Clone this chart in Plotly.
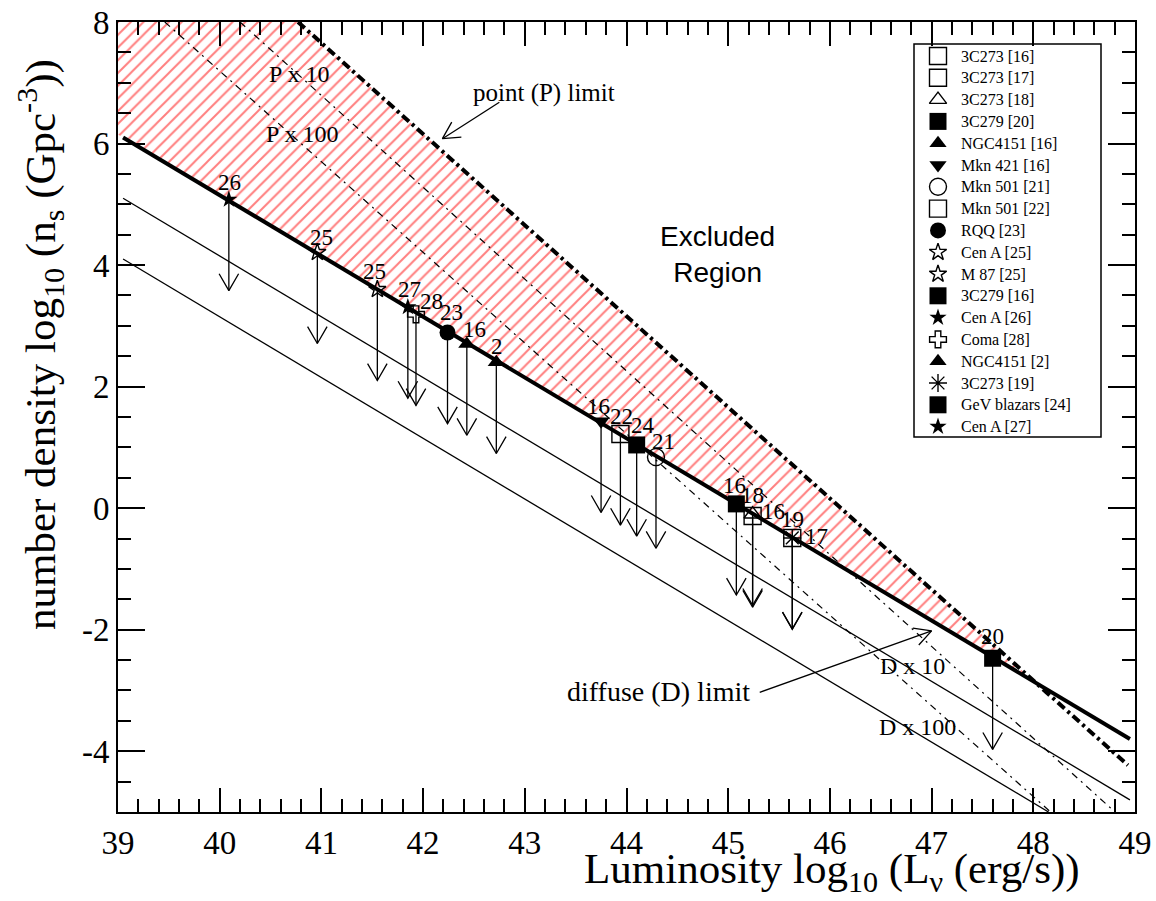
import math
import numpy as np
import plotly.graph_objects as go

# ---------------- data ----------------
source_names = ["3C273 [16]", "3C273 [17]", "3C273 [18]", "3C279 [20]", "NGC4151 [16]",
                "Mkn 421 [16]", "Mkn 501 [21]", "Mkn 501 [22]", "RQQ [23]", "Cen A [25]",
                "M 87 [25]", "3C279 [16]", "Cen A [26]", "Coma [28]", "NGC4151 [2]",
                "3C273 [19]", "GeV blazars [24]", "Cen A [27]"]
source_logL = [45.24, 45.63, 45.24, 47.60, 42.43, 43.75, 44.29, 43.94, 42.24, 40.96,
               41.55, 45.08, 40.09, 41.93, 42.72, 45.63, 44.10, 41.85]
source_logn = [-0.13, -0.49, -0.10, -2.47, 2.70, 1.43, 0.84, 1.22, 2.89, 4.21,
               3.60, 0.07, 5.08, 3.19, 2.40, -0.49, 1.04, 3.31]
source_refs = ["16", "17", "18", "20", "16", "16", "21", "22", "23", "25",
               "25", "16", "26", "28", "2", "19", "24", "27"]
upper_limit_drop = 1.5  # length of each upper-limit arrow (decades)

# limit lines (end points)
d_limit_x, d_limit_y = [39.05, 48.95], [6.10, -3.80]
d10_x, d10_y = [39.05, 48.95], [5.10, -4.80]
d100_x, d100_y = [39.05, 48.15], [4.10, -5.00]
p_limit_x, p_limit_y = [40.77, 48.93], [8.00, -4.23]
p10_x, p10_y = [40.20, 48.77], [8.00, -4.95]
p100_x, p100_y = [39.46, 48.17], [8.00, -5.00]

x_tickvals = [39, 40, 41, 42, 43, 44, 45, 46, 47, 48, 49]
y_tickvals = [-4, -2, 0, 2, 4, 6, 8]
y_ticktext = ["-4", "-2", "0", "2", "4", "6", "8"]

# ---------------- styles ----------------
W, H = 1156, 901
ML, MR, MT, MB = 118, 21, 22, 89
PW, PH = W - ML - MR, H - MT - MB
X_RANGE = [39, 49]
Y_RANGE = [-5, 8]
SX = PW / (X_RANGE[1] - X_RANGE[0])
SY = PH / (Y_RANGE[1] - Y_RANGE[0])
SERIF = "Liberation Serif, Times New Roman, serif"
SANS = "Liberation Sans, Arial, sans-serif"

marker_style = {
    "3C273 [16]": ("square-open", 17), "3C273 [17]": ("square-open", 17),
    "3C273 [18]": ("triangle-up-open", 15), "3C279 [20]": ("square", 17),
    "NGC4151 [16]": ("triangle-up", 15), "Mkn 421 [16]": ("triangle-down", 15),
    "Mkn 501 [21]": ("circle-open", 17), "Mkn 501 [22]": ("square-open", 17),
    "RQQ [23]": ("circle", 16), "Cen A [25]": ("star-open", 13),
    "M 87 [25]": ("star-open", 13), "3C279 [16]": ("square", 17),
    "Cen A [26]": ("star", 13), "Coma [28]": ("cross-open", 14),
    "NGC4151 [2]": ("triangle-up", 15), "3C273 [19]": ("asterisk-open", 15),
    "GeV blazars [24]": ("square", 17), "Cen A [27]": ("star", 13),
}
# pixel offsets of the reference-number labels (dx, dy up)
label_shift = {
    "3C273 [16]": (21, 5), "3C273 [17]": (24, 1), "3C273 [18]": (0, 19),
    "3C279 [20]": (0, 22), "NGC4151 [16]": (8, 15), "Mkn 421 [16]": (-3, 15),
    "Mkn 501 [21]": (8, 16), "Mkn 501 [22]": (1, 18), "RQQ [23]": (4, 20),
    "Cen A [25]": (4, 15), "M 87 [25]": (-3, 18), "3C279 [16]": (-2, 18),
    "Cen A [26]": (1, 17), "Coma [28]": (16, 13), "NGC4151 [2]": (1, 16),
    "3C273 [19]": (0, 18), "GeV blazars [24]": (6, 19), "Cen A [27]": (2, 18),
}
# legend box in page pixels (left, top, right, bottom), row pitch
LEG_BOX = (914, 44, 1101, 437)
LEG_FIRST_ROW, LEG_PITCH = 56, 21.8
LEG_SYMBOL_X, LEG_TEXT_X = 938, 959


def arrow_path(x0, y0, x1, y1, head_px=19.0, half_angle=30.0):
    """Shaft from (x0,y0) to (x1,y1) plus an open V head at (x1,y1)."""
    dxp, dyp = (x1 - x0) * SX, (y1 - y0) * SY
    n = math.hypot(dxp, dyp)
    ux, uy = -dxp / n, -dyp / n
    xs, ys = [x0, x1, None], [y0, y1, None]
    a = math.radians(half_angle)
    arms = []
    for s in (1, -1):
        c, sn = math.cos(a), math.sin(s * a)
        bx, by = ux * c - uy * sn, ux * sn + uy * c
        arms.append((x1 + bx * head_px / SX, y1 + by * head_px / SY))
    xs += [arms[0][0], x1, arms[1][0], None]
    ys += [arms[0][1], y1, arms[1][1], None]
    return xs, ys


def px_to_paper(px, py):
    return (px - ML) / PW, (H - MB - py) / PH


fig = go.Figure()

# hatched excluded region: above D limit, below P limit
fd = np.polyfit(d_limit_x, d_limit_y, 1)
fp = np.polyfit(p_limit_x, p_limit_y, 1)
xc = (fp[1] - fd[1]) / (fd[0] - fp[0])
yc = np.polyval(fd, xc)
hx = [X_RANGE[0], p_limit_x[0], xc, X_RANGE[0], X_RANGE[0]]
hy = [Y_RANGE[1], Y_RANGE[1], yc, np.polyval(fd, X_RANGE[0]), Y_RANGE[1]]
fig.add_trace(go.Scatter(
    x=hx, y=hy, mode="lines", fill="toself", line=dict(width=0),
    fillcolor="rgba(0,0,0,0)",
    fillpattern=dict(shape="/", fgcolor="#ff0000", bgcolor="rgba(0,0,0,0)",
                     size=9, solidity=0.22),
    showlegend=False, hoverinfo="skip"))

# limit lines
for lx, ly, w, dash in [
    (d_limit_x, d_limit_y, 4, "solid"),
    (d10_x, d10_y, 1.3, "solid"),
    (d100_x, d100_y, 1.3, "solid"),
    (p_limit_x, p_limit_y, 4, "9px,4px,3px,4px"),
    (p10_x, p10_y, 1.2, "7px,5px,2px,5px"),
    (p100_x, p100_y, 1.2, "7px,5px,2px,5px"),
]:
    fig.add_trace(go.Scatter(x=lx, y=ly, mode="lines",
                             line=dict(color="black", width=w, dash=dash),
                             showlegend=False, hoverinfo="skip"))

# upper-limit arrows
ax_all, ay_all = [], []
for x, y in zip(source_logL, source_logn):
    xs, ys = arrow_path(x, y, x, y - upper_limit_drop, head_px=19.5, half_angle=30)
    ax_all += xs
    ay_all += ys
fig.add_trace(go.Scatter(x=ax_all, y=ay_all, mode="lines",
                         line=dict(color="black", width=1.3),
                         showlegend=False, hoverinfo="skip"))

# annotation arrows for point / diffuse limits
for (x0, y0, x1, y1) in [(42.75, 6.68, 42.19, 6.08), (45.31, -3.03, 47.00, -2.02)]:
    xs, ys = arrow_path(x0, y0, x1, y1, head_px=19, half_angle=28)
    fig.add_trace(go.Scatter(x=xs, y=ys, mode="lines",
                             line=dict(color="black", width=1.3),
                             showlegend=False, hoverinfo="skip"))

# source markers
for name, x, y in zip(source_names, source_logL, source_logn):
    sym, size = marker_style[name]
    is_open = sym.endswith("-open")
    fig.add_trace(go.Scatter(
        x=[x], y=[y], mode="markers", name=name, showlegend=False,
        marker=dict(symbol=sym, size=size, color="black",
                    line=dict(color="black", width=1.4 if is_open else 0)),
        hoverinfo="skip"))

annotations = []
for name, x, y, ref in zip(source_names, source_logL, source_logn, source_refs):
    dx, dy = label_shift[name]
    annotations.append(dict(x=x, y=y, xref="x", yref="y", text=ref, showarrow=False,
                            xshift=dx, yshift=dy,
                            font=dict(family=SERIF, size=23, color="black")))

for txt, x, y, size, fam in [
    ("P x 10", 40.78, 7.14, 24, SERIF),
    ("P x 100", 40.81, 6.15, 24, SERIF),
    ("D x 10", 46.81, -2.60, 24, SERIF),
    ("D x 100", 46.86, -3.60, 24, SERIF),
    ("point (P) limit", 43.19, 6.83, 25, SERIF),
    ("diffuse (D) limit", 44.31, -3.01, 28, SERIF),
    ("Excluded<br>Region", 44.89, 4.18, 28, SANS),
]:
    annotations.append(dict(x=x, y=y, xref="x", yref="y", text=txt, showarrow=False,
                            font=dict(family=fam, size=size, color="black")))

# axis titles (placed by page pixel centre)
for txt, cx, cy, ang in [
    ("Luminosity log<sub>10</sub> (L<sub>ν</sub> (erg/s))", 832, 872, 0),
    ("number density log<sub>10</sub> (n<sub>s</sub> (Gpc<sup>-3</sup>))", 41, 345, -90),
]:
    px, py = px_to_paper(cx, cy)
    annotations.append(dict(x=px, y=py, xref="paper", yref="paper", text=txt,
                            showarrow=False, textangle=ang, xanchor="center",
                            yanchor="middle",
                            font=dict(family=SERIF, size=43, color="black")))

# hand-built legend on a pixel-coordinate overlay axis (y down)
lx0, ly0, lx1, ly1 = LEG_BOX
shapes = [dict(type="rect", xref="x2", yref="y2",
               x0=lx0 - ML, x1=lx1 - ML, y0=ly0 - MT, y1=ly1 - MT,
               line=dict(color="black", width=1.5), fillcolor="white", layer="below")]
for i, name in enumerate(source_names):
    sym, size = marker_style[name]
    is_open = sym.endswith("-open")
    row_y = LEG_FIRST_ROW + i * LEG_PITCH - MT
    fig.add_trace(go.Scatter(
        x=[LEG_SYMBOL_X - ML], y=[row_y], xaxis="x2", yaxis="y2", mode="markers",
        showlegend=False, hoverinfo="skip",
        marker=dict(symbol=sym, size=size, color="black",
                    line=dict(color="black", width=1.4 if is_open else 0))))
    annotations.append(dict(x=LEG_TEXT_X - ML, y=row_y, xref="x2", yref="y2", text=name,
                            showarrow=False, xanchor="left", yanchor="middle",
                            font=dict(family=SERIF, size=16, color="black")))

axis_common = dict(showgrid=False, zeroline=False, showline=True, linecolor="black",
                   linewidth=2, mirror="ticks", ticks="inside", tickcolor="black",
                   tickwidth=2, automargin=False,
                   tickfont=dict(family=SERIF, size=33, color="black"))
fig.update_layout(
    width=W, height=H, autosize=False,
    margin=dict(l=ML, r=MR, t=MT, b=MB, autoexpand=False),
    paper_bgcolor="white", plot_bgcolor="white",
    xaxis=dict(range=X_RANGE, tickvals=x_tickvals, ticklen=24,
               minor=dict(dtick=0.2, ticklen=13, ticks="inside", tickcolor="black",
                          tickwidth=1.5),
               **axis_common),
    yaxis=dict(range=Y_RANGE, tickvals=y_tickvals, ticktext=y_ticktext, ticklen=27,
               minor=dict(dtick=0.5, ticklen=13, ticks="inside", tickcolor="black",
                          tickwidth=1.5),
               **axis_common),
    xaxis2=dict(overlaying="x", range=[0, PW], visible=False, fixedrange=True),
    yaxis2=dict(overlaying="y", range=[PH, 0], visible=False, fixedrange=True),
    annotations=annotations,
    shapes=shapes,
    showlegend=False,
)

fig.write_html("out.html", config={"displayModeBar": False},
               post_script="document.body.style.margin='0';")
